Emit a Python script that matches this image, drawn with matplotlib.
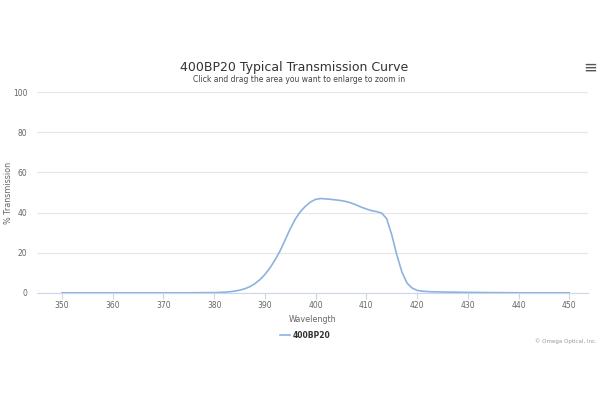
import matplotlib
matplotlib.use('Agg')
import matplotlib.pyplot as plt
from matplotlib.lines import Line2D

# transmission curve (wavelength nm, % transmission)
wavelength = [350, 355, 360, 365, 370, 375, 380, 381, 382, 383, 384, 385, 386, 387,
              388, 389, 390, 391, 392, 393, 394, 395, 396, 397, 398, 399, 400, 401,
              402, 403, 404, 405, 406, 407, 408, 409, 410, 411, 412, 413, 414, 415,
              416, 417, 418, 419, 420, 421, 422, 423, 425, 430, 435, 440, 445, 450]
transmission = [0.1, 0.1, 0.1, 0.1, 0.1, 0.1, 0.2, 0.3, 0.4, 0.6, 0.9, 1.4, 2.1, 3.1,
                4.6, 6.6, 9.2, 12.5, 16.5, 21.0, 26.5, 32.0, 36.8, 40.5, 43.2, 45.3, 46.6, 47.0,
                46.8, 46.6, 46.3, 46.0, 45.5, 44.8, 43.8, 42.7, 41.8, 41.0, 40.5, 39.8, 37.0, 29.0,
                19.0, 10.5, 5.0, 2.5, 1.3, 0.9, 0.7, 0.6, 0.5, 0.3, 0.2, 0.1, 0.1, 0.1]

x_ticks = [350, 360, 370, 380, 390, 400, 410, 420, 430, 440, 450]
y_ticks = [0, 20, 40, 60, 80, 100]

line_color = '#8db2e0'
label_color = '#666666'

plt.rcParams['font.family'] = ['DejaVu Sans']

fig = plt.figure(figsize=(6, 4), dpi=100)
ax = fig.add_axes([0.062, 0.2675, 0.918, 0.5025])

ax.plot(wavelength, transmission, color=line_color, linewidth=1.2)

ax.set_xlim(345.1, 453.7)
ax.set_ylim(0, 100)
ax.set_xticks(x_ticks)
ax.set_yticks(y_ticks)
ax.tick_params(axis='x', colors='#ccd6eb', labelcolor=label_color, labelsize=5.5,
               length=4, width=0.8, pad=2)
ax.tick_params(axis='y', length=0, labelcolor=label_color, labelsize=5.5, pad=7)
ax.grid(axis='y', color='#e6e6e6', linewidth=0.8)
ax.set_axisbelow(True)
for s in ['top', 'right', 'left']:
    ax.spines[s].set_visible(False)
ax.spines['bottom'].set_color('#ccd6eb')
ax.spines['bottom'].set_linewidth(0.8)

ax.set_xlabel('Wavelength', fontsize=5.8, color=label_color, labelpad=3)
ax.set_ylabel('% Transmission', fontsize=5.8, color=label_color)
ax.yaxis.set_label_coords(-0.044, 0.5)

# titles
fig.text(0.49, 0.832, '400BP20 Typical Transmission Curve', ha='center', va='center',
         fontsize=9, color='#333333')
fig.text(0.498, 0.802, 'Click and drag the area you want to enlarge to zoom in',
         ha='center', va='center', fontsize=5.5, color='#444444')

# menu icon
fig.text(0.983, 0.832, '\u2261', ha='center', va='center', fontsize=12, color='#555555')

# legend
fig.lines.append(Line2D([0.466, 0.483], [0.162, 0.162], transform=fig.transFigure,
                        color=line_color, linewidth=1.2))
fig.text(0.488, 0.162, '400BP20', ha='left', va='center', fontsize=5.5,
         fontweight='bold', color='#333333')

# credits
fig.text(0.995, 0.148, '\u00a9 Omega Optical, Inc.', ha='right', va='center',
         fontsize=4, color='#999999')

fig.savefig('out.png', dpi=100)
